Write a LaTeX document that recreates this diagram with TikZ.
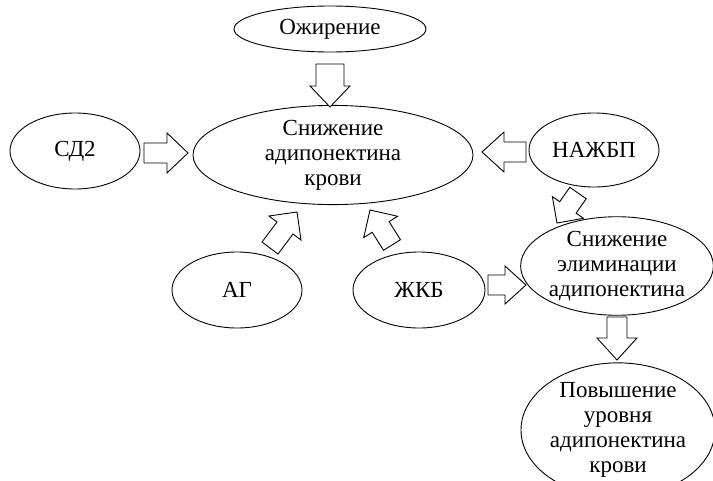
\documentclass[tikz,border=0pt]{standalone}
\usepackage{fontspec}
\setmainfont{Liberation Serif}
\usetikzlibrary{calc,shapes.geometric}
\tikzset{
  oval/.style={ellipse, draw, line width=0.9pt, inner sep=0pt, align=center,
    font=\fontsize{23}{25}\selectfont},
  blockarrow/.style n args={3}{draw, fill=white, line width=0.9pt, line join=miter,
    to path={
      ($(\tikztostart)!#1!90:(\tikztotarget)$)
      -- ($($(\tikztotarget)!#3!(\tikztostart)$)!#1!90:(\tikztotarget)$)
      -- ($($(\tikztotarget)!#3!(\tikztostart)$)!#2!90:(\tikztotarget)$)
      -- (\tikztotarget)
      -- ($($(\tikztotarget)!#3!(\tikztostart)$)!#2!-90:(\tikztotarget)$)
      -- ($($(\tikztotarget)!#3!(\tikztostart)$)!#1!-90:(\tikztotarget)$)
      -- ($(\tikztostart)!#1!-90:(\tikztotarget)$)
      -- cycle}}
}
\begin{document}
\begin{tikzpicture}[x=1pt,y=-1pt]
\useasboundingbox (0,0) rectangle (713,480);
\begin{scope}
\clip (0,0) rectangle (713,480);
% nodes
\node[oval, minimum width=192pt, minimum height=46pt] (obes) at (330,29) {Ожирение};
\node[oval, minimum width=280pt, minimum height=93pt] (main) at (333,155) {Снижение\\адипонектина\\крови};
\node[oval, minimum width=130pt, minimum height=76pt] (sd2) at (75,151) {СД2};
\node[oval, minimum width=130pt, minimum height=74pt] (nafld) at (594,150) {НАЖБП};
\node[oval, minimum width=130pt, minimum height=76pt] (ag) at (237,290) {АГ};
\node[oval, minimum width=132pt, minimum height=76pt] (zkb) at (419,290) {ЖКБ};
\node[oval, minimum width=190pt, minimum height=93pt] (elim) at (617,266) {Снижение\\элиминации\\адипонектина};
\node[oval, minimum width=194pt, minimum height=134pt] (rise) at (618,430) {Повышение\\уровня\\адипонектина\\крови};
% arrow end points
\coordinate (a1) at (330,64);  \coordinate (b1) at (330,107);
\coordinate (a2) at (144,153); \coordinate (b2) at (188,153);
\coordinate (a3) at (526,152); \coordinate (b3) at (482,152);
\coordinate (a4) at (578,193); \coordinate (b4) at (557,223);
\coordinate (a5) at (270,248); \coordinate (b5) at (297,212);
\coordinate (a6) at (392,245); \coordinate (b6) at (370,210);
\coordinate (a7) at (488,285); \coordinate (b7) at (526,285);
\coordinate (a8) at (617,317); \coordinate (b8) at (617,360);
% block arrows
\draw[blockarrow={14pt}{20pt}{21pt}] (a1) to (b1);
\draw[blockarrow={10pt}{20pt}{21pt}] (a2) to (b2);
\draw[blockarrow={10pt}{20pt}{22pt}] (a3) to (b3);
\draw[blockarrow={10pt}{19pt}{19pt}] (a4) to (b4);
\draw[blockarrow={10pt}{20pt}{20pt}] (a5) to (b5);
\draw[blockarrow={10pt}{20pt}{20pt}] (a6) to (b6);
\draw[blockarrow={10pt}{19pt}{21pt}] (a7) to (b7);
\draw[blockarrow={10pt}{20pt}{22pt}] (a8) to (b8);
\end{scope}
\end{tikzpicture}
\end{document}
